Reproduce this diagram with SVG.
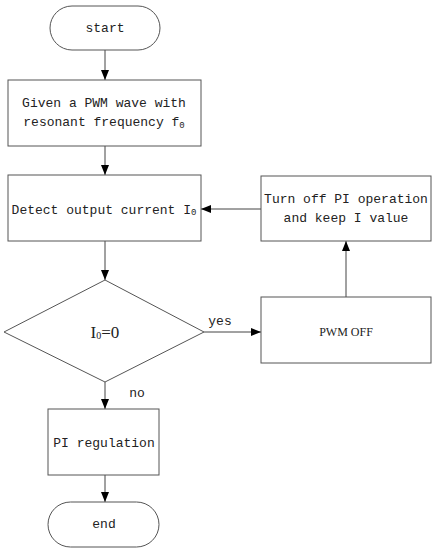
<svg xmlns="http://www.w3.org/2000/svg" width="436" height="550" viewBox="0 0 436 550">
<style>
.s{fill:#fff;stroke:#555;stroke-width:1}
.t{font-family:"Liberation Mono","DejaVu Sans Mono",monospace;font-size:13px;fill:#222;text-anchor:middle}
.c{stroke:#444;stroke-width:1;fill:none;marker-end:url(#ah)}
.sub{font-size:9px}
</style>
<defs>
<marker id="ah" viewBox="0 0 10 8" refX="10" refY="4" markerWidth="10" markerHeight="8" markerUnits="userSpaceOnUse" orient="auto">
<path d="M0,0 L10,4 L0,8 z" fill="#000"/>
</marker>
</defs>
<rect width="436" height="550" fill="#fff"/>
<g id="connectors">
<line class="c" x1="105" y1="50" x2="105" y2="80"/>
<line class="c" x1="105" y1="146" x2="105" y2="175"/>
<line class="c" x1="261" y1="209" x2="201" y2="209"/>
<line class="c" x1="105" y1="241" x2="105" y2="280"/>
<line class="c" x1="204" y1="332" x2="261" y2="332"/>
<line class="c" x1="346" y1="297" x2="346" y2="241"/>
<line class="c" x1="105" y1="382" x2="105" y2="409"/>
<line class="c" x1="105" y1="475" x2="105" y2="502"/>
<text class="t" x="220" y="325">yes</text>
<text class="t" x="137" y="397">no</text>
</g>
<g id="start">
<rect class="s" x="50" y="6" width="110" height="44" rx="22" ry="22"/>
<text class="t" x="105" y="32">start</text>
</g>
<g id="given">
<rect class="s" x="8" y="80" width="193" height="66"/>
<text class="t" x="104" y="107">Given a PWM wave with</text>
<text class="t" x="104" y="126">resonant frequency f<tspan class="sub" dy="2">0</tspan></text>
</g>
<g id="detect">
<rect class="s" x="8" y="175" width="193" height="66"/>
<text class="t" x="104" y="214">Detect output current I<tspan class="sub" dy="1">0</tspan></text>
</g>
<g id="turnoff">
<rect class="s" x="261" y="176" width="170" height="65"/>
<text class="t" x="346" y="203">Turn off PI operation</text>
<text class="t" x="346" y="222">and keep I value</text>
</g>
<g id="decision">
<polygon class="s" points="105,280 204,332 105,382 4,332"/>
<text x="105" y="338" font-family="Liberation Serif, serif" font-size="17" fill="#222" text-anchor="middle">I<tspan font-size="10" dy="1">0</tspan><tspan dy="-1">=0</tspan></text>
</g>
<g id="pwmoff">
<rect class="s" x="261" y="297" width="170" height="66"/>
<text x="346" y="336" font-family="Liberation Serif, serif" font-size="12" fill="#222" text-anchor="middle">PWM OFF</text>
</g>
<g id="pi">
<rect class="s" x="48" y="409" width="111" height="66"/>
<text class="t" x="104" y="447">PI regulation</text>
</g>
<g id="end">
<rect class="s" x="48" y="502" width="111" height="45" rx="22.5" ry="22.5"/>
<text class="t" x="104" y="528">end</text>
</g>
</svg>
